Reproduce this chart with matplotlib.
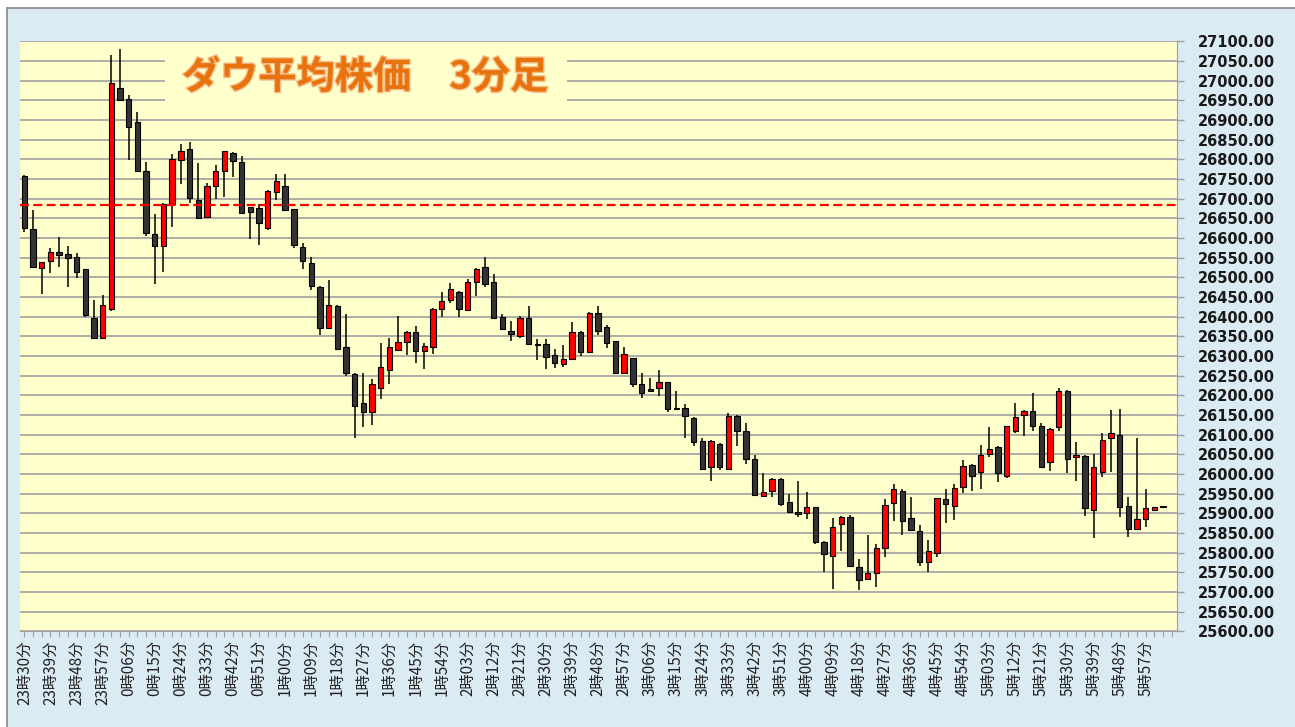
import matplotlib
matplotlib.use("Agg")
import matplotlib.pyplot as plt
from matplotlib.patches import Rectangle
from matplotlib.ticker import MultipleLocator, FixedLocator, FuncFormatter
import matplotlib.patheffects as pe

# --- data: 3-minute candles from 23:30 ---
start_hour = 23
start_min = 30
step_min = 3

opens = [26758, 26622, 26525, 26542, 26564, 26559, 26553, 26520, 26397, 26347,
         26419, 26981, 26953, 26896, 26770, 26609, 26581, 26687, 26798, 26826,
         26697, 26654, 26732, 26770, 26817, 26794, 26678, 26676, 26625, 26716,
         26732, 26673, 26578, 26536, 26475, 26370, 26428, 26324, 26254, 26180,
         26157, 26219, 26264, 26315, 26335, 26361, 26313, 26322, 26419, 26442,
         26464, 26417, 26489, 26526, 26489, 26400, 26364, 26351, 26396, 26331,
         26331, 26303, 26280, 26292, 26362, 26311, 26410, 26375, 26337, 26258,
         26294, 26229, 26215, 26218, 26233, 26168, 26167, 26142, 26084, 26017,
         26076, 26013, 26148, 26110, 26038, 25945, 25958, 25987, 25928, 25903,
         25900, 25915, 25826, 25792, 25873, 25890, 25764, 25732, 25747, 25813,
         25926, 25958, 25887, 25855, 25776, 25798, 25936, 25919, 25968, 26023,
         26006, 26051, 26068, 25995, 26110, 26150, 26160, 26122, 26030, 26119,
         26212, 26043, 26045, 25908, 26006, 26091, 26099, 25919, 25860, 25886,
         25908, 25918]
highs = [26760, 26671, 26540, 26574, 26602, 26580, 26561, 26522, 26442, 26455,
         27065, 27080, 26964, 26921, 26793, 26660, 26688, 26813, 26838, 26845,
         26790, 26741, 26786, 26822, 26820, 26809, 26680, 26687, 26722, 26762,
         26762, 26675, 26588, 26553, 26477, 26493, 26430, 26406, 26256, 26256,
         26241, 26334, 26345, 26403, 26364, 26376, 26334, 26421, 26464, 26486,
         26466, 26495, 26523, 26553, 26509, 26406, 26389, 26402, 26428, 26343,
         26343, 26318, 26328, 26387, 26364, 26411, 26426, 26379, 26338, 26322,
         26296, 26258, 26245, 26264, 26235, 26211, 26177, 26145, 26092, 26087,
         26078, 26154, 26150, 26129, 26048, 26003, 25989, 25990, 25948, 25981,
         25955, 25917, 25830, 25887, 25892, 25896, 25783, 25845, 25821, 25936,
         25974, 25961, 25941, 25870, 25832, 25940, 25961, 25974, 26036, 26026,
         26074, 26119, 26070, 26123, 26180, 26162, 26205, 26130, 26116, 26218,
         26214, 26081, 26048, 26050, 26103, 26163, 26165, 25941, 26091, 25961,
         25915, 25918]
lows = [26615, 26525, 26458, 26512, 26527, 26475, 26498, 26400, 26343, 26345,
        26415, 26950, 26798, 26770, 26605, 26483, 26514, 26627, 26737, 26688,
        26648, 26652, 26699, 26705, 26754, 26662, 26598, 26582, 26620, 26697,
        26671, 26574, 26520, 26468, 26353, 26368, 26315, 26249, 26092, 26119,
        26125, 26190, 26228, 26313, 26303, 26283, 26267, 26305, 26400, 26434,
        26400, 26415, 26453, 26476, 26395, 26366, 26338, 26345, 26329, 26290,
        26267, 26269, 26273, 26290, 26300, 26310, 26354, 26321, 26254, 26256,
        26220, 26193, 26209, 26199, 26157, 26164, 26092, 26070, 26010, 25982,
        26010, 26012, 26072, 26025, 25945, 25944, 25941, 25919, 25902, 25890,
        25886, 25822, 25752, 25708, 25805, 25765, 25705, 25730, 25712, 25790,
        25881, 25845, 25856, 25767, 25752, 25788, 25876, 25883, 25951, 25957,
        25961, 26043, 25980, 25989, 26105, 26097, 26109, 26015, 26008, 26109,
        26002, 25983, 25893, 25837, 25993, 26006, 25890, 25840, 25858, 25865,
        25908, 25916]
closes = [26625, 26527, 26538, 26564, 26557, 26550, 26514, 26404, 26345, 26430,
          26993, 26951, 26883, 26770, 26612, 26580, 26686, 26800, 26822, 26703,
          26650, 26732, 26770, 26822, 26796, 26663, 26667, 26638, 26720, 26745,
          26671, 26582, 26542, 26478, 26370, 26430, 26318, 26256, 26174, 26157,
          26228, 26271, 26322, 26335, 26361, 26313, 26326, 26419, 26441, 26470,
          26419, 26489, 26521, 26483, 26396, 26368, 26355, 26396, 26331, 26328,
          26297, 26282, 26292, 26360, 26311, 26410, 26364, 26334, 26256, 26305,
          26228, 26205, 26211, 26233, 26165, 26166, 26148, 26082, 26013, 26084,
          26019, 26148, 26109, 26038, 25947, 25955, 25987, 25924, 25903, 25897,
          25915, 25826, 25796, 25865, 25890, 25767, 25730, 25747, 25813, 25921,
          25961, 25881, 25858, 25776, 25803, 25938, 25924, 25965, 26020, 25996,
          26048, 26063, 26002, 26122, 26146, 26160, 26122, 26017, 26114, 26212,
          26038, 26048, 25913, 26019, 26087, 26104, 25915, 25859, 25886, 25913,
          25915, 25916]

ref_level = 26683          # red dashed line
y_min, y_max, y_step = 25600, 27100, 50
title = "ダウ平均株価\u30003分足"

# time labels every 3rd candle
n = len(opens)
times = []
for i in range(n):
    t = (start_hour * 60 + start_min + i * step_min) % (24 * 60)
    times.append(f"{t // 60}時{t % 60:02d}分")
label_pos = list(range(0, n - 2, 3))
labels = [times[i] for i in label_pos]

# --- colours ---
bg_blue = "#DAEBF4"
plot_yellow = "#FFFFCC"
grid_gray = "#A0A0A0"
bull = "#FF0000"
bear = "#333333"

fig = plt.figure(figsize=(12.95, 7.27), dpi=100, facecolor="white")
fig.patches.append(Rectangle((7 / 1295, -0.01), 1.02, (727 - 8) / 727 + 0.01,
                             transform=fig.transFigure, facecolor=bg_blue,
                             edgecolor="#9A9A9A", linewidth=1.5, zorder=-10))

ax = fig.add_axes([20 / 1295, (727 - 631.3) / 727, 1157 / 1295, 589.9 / 727])
ax.set_facecolor(plot_yellow)
ax.set_xlim(-0.5, 132.6)
ax.set_ylim(y_min, y_max)

# candles
x = list(range(n))
up = [c >= o for o, c in zip(opens, closes)]
colors = [bull if u else bear for u in up]
bottoms = [min(o, c) for o, c in zip(opens, closes)]
heights = [max(abs(c - o), 1.5) for o, c in zip(opens, closes)]
ax.vlines(x, lows, highs, color="black", linewidth=1.1, zorder=3)
ax.bar(x, heights, bottom=bottoms, width=0.62, color=colors,
       edgecolor="black", linewidth=0.8, zorder=4)

ax.axhline(ref_level, color="#FF0000", linestyle=(0, (4, 2)), linewidth=1.6, zorder=6)

# grid
ax.yaxis.set_major_locator(MultipleLocator(y_step))
ax.grid(axis="y", color=grid_gray, linewidth=1.2)
ax.set_axisbelow(True)

# title box hides gridlines
ax.add_patch(Rectangle((0.1253, 0.884), 0.3475, 0.1125, transform=ax.transAxes,
                       facecolor=plot_yellow, edgecolor="none", zorder=2))
ax.text(0.2985, 0.9395, title, transform=ax.transAxes, ha="center", va="center",
        fontsize=27.5, fontweight="bold", color="#E8730E",
        family=["Noto Sans CJK JP", "DejaVu Sans"], zorder=7,
        path_effects=[pe.withStroke(linewidth=2, foreground="#F6C08C")])

# y axis on the right
ax.yaxis.tick_right()
ax.yaxis.set_major_formatter(FuncFormatter(lambda v, p: f"{v:.2f}"))
ax.tick_params(axis="y", length=5, width=1, color=grid_gray, pad=10,
               labelsize=10.5, labelcolor="#1A1A1A")
for t in ax.get_yticklabels():
    t.set_fontweight("bold")

# x axis
ax.xaxis.set_major_locator(FixedLocator(label_pos))
ax.xaxis.set_minor_locator(FixedLocator(list(range(0, 133))))
ax.set_xticklabels(labels, rotation=90, fontsize=11,
                   family=["Noto Sans CJK JP", "DejaVu Sans"], color="#222222")
ax.tick_params(axis="x", which="both", length=4.5, width=0.8, color=grid_gray,
               pad=2)

for s in ["left", "top"]:
    ax.spines[s].set_visible(False)
ax.spines["right"].set_color(grid_gray)
ax.spines["bottom"].set_color(grid_gray)

fig.savefig("out.png", dpi=100, facecolor=fig.get_facecolor())
